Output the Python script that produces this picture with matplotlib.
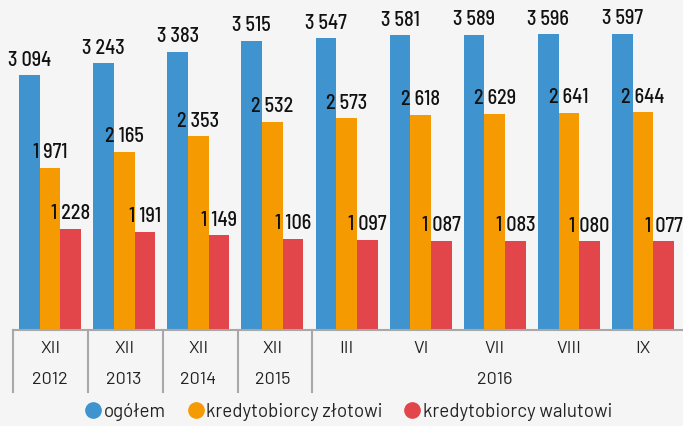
import numpy as np
import matplotlib.pyplot as plt
from matplotlib.lines import Line2D

# dane (tys. kredytobiorców)
months = ['XII', 'XII', 'XII', 'XII', 'III', 'VI', 'VII', 'VIII', 'IX']
years = ['2012', '2013', '2014', '2015', '2016']
total = [3094, 3243, 3383, 3515, 3547, 3581, 3589, 3596, 3597]
pln = [1971, 2165, 2353, 2532, 2573, 2618, 2629, 2641, 2644]
fx = [1228, 1191, 1149, 1106, 1097, 1087, 1083, 1080, 1077]
series_names = ['ogółem', 'kredytobiorcy złotowi', 'kredytobiorcy walutowi']
colors = ['#3f93cf', '#f59a00', '#e2454a']

label_font = ['Barlow Semi Condensed', 'Roboto Condensed', 'Roboto', 'DejaVu Sans']
text_font = ['Barlow', 'Roboto', 'DejaVu Sans']
plt.rcParams['font.family'] = text_font

bg = '#f5f5f5'
fig = plt.figure(figsize=(6.83, 4.26), dpi=100, facecolor=bg)
ax = fig.add_axes([13 / 683, 96 / 426, 670 / 683, 330 / 426])
ax.set_facecolor(bg)

x = np.arange(len(months))
w = 0.279
for i, (vals, c) in enumerate(zip([total, pln, fx], colors)):
    pos = x + (i - 1) * w
    ax.bar(pos, vals, width=w, color=c, zorder=2)
    for p, v in zip(pos, vals):
        s = f'{v:,}'.replace(',', ' ')
        ax.annotate(s, (p, v), xytext=(0, 4), textcoords='offset points',
                    ha='center', va='bottom', fontsize=14.5, color='#111111',
                    family=label_font, weight='medium')

ax.set_xlim(-0.5, 8.54)
ax.set_ylim(0, 4010)
ax.set_xticks([])
ax.set_yticks([])
for sp in ['top', 'right', 'left']:
    ax.spines[sp].set_visible(False)
ax.spines['bottom'].set_color('#a8a8a8')
ax.spines['bottom'].set_linewidth(1.5)

# etykiety kategorii
trans = ax.get_xaxis_transform()
for xi, m in zip(x, months):
    ax.text(xi, -0.055, m, transform=trans, ha='center', va='center',
            fontsize=13, color='#222222')
for xi, y in zip(range(4), years[:4]):
    ax.text(xi, -0.15, y, transform=trans, ha='center', va='center',
            fontsize=13, color='#222222')
ax.text(6, -0.15, years[4], transform=trans, ha='center', va='center',
        fontsize=13, color='#222222')
for d in [-0.5, 0.51, 1.52, 2.53, 3.54]:
    ax.plot([d, d], [0, -0.188], transform=trans, color='#a8a8a8',
            lw=1.5, clip_on=False)

handles = [Line2D([], [], marker='o', ls='none', markersize=11,
                  markerfacecolor=c, markeredgecolor=c) for c in colors]
fig.legend(handles, series_names, loc='center', bbox_to_anchor=(0.511, 0.033),
           ncol=3, frameon=False, fontsize=13.5, handlelength=0.8,
           handletextpad=0.15, columnspacing=1.2, labelcolor='#222222')

fig.savefig('out.png', dpi=100, facecolor=bg)
